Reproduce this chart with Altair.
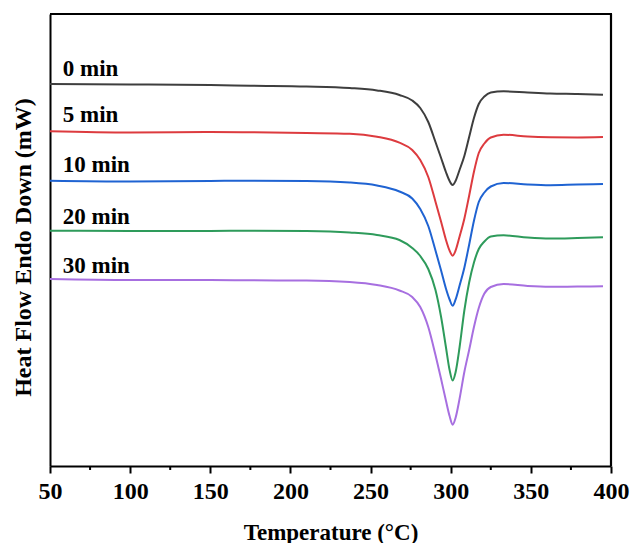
import altair as alt
import pandas as pd

# Temperatures (°C) at which the curves were read
temps = [50, 100, 150, 175, 210, 237, 254, 268, 276, 281, 286, 290.5, 294, 297, 299.3, 301.2,
         303, 305.5, 308.5, 311.5, 314.5, 317.5, 321, 325, 333, 348, 362, 379, 395]

# Heat flow (arbitrary offset units, mW) for each sample
hf_0 = [38.2, 38.15, 38.1, 38.03, 37.95, 37.8, 37.56, 37.1, 36.55, 35.8, 34.4, 32.4, 30.8, 29.4, 28.5, 28.1,
        28.5, 29.6, 31.0, 32.9, 34.8, 36.2, 36.95, 37.35, 37.47, 37.35, 37.25, 37.2, 37.13]
hf_5 = [33.47, 33.35, 33.4, 33.37, 33.3, 33.23, 32.93, 32.33, 31.6, 30.6, 28.9, 26.43, 24.43, 22.63, 21.53, 21.03,
        21.53, 22.93, 24.73, 27.03, 29.43, 31.3, 32.25, 32.85, 33.13, 32.95, 32.88, 32.86, 32.9]
hf_10 = [28.53, 28.45, 28.5, 28.53, 28.5, 28.35, 28.05, 27.45, 26.75, 25.7, 24.0, 21.55, 19.55, 17.75, 16.65, 16.03,
         16.63, 18.03, 19.83, 22.13, 24.53, 26.4, 27.35, 27.95, 28.3, 28.15, 28.08, 28.15, 28.2]
hf_20 = [23.53, 23.5, 23.5, 23.53, 23.5, 23.35, 23.1, 22.6, 21.8, 21.0, 19.7, 17.6, 14.9, 11.9, 9.6, 8.55,
         9.35, 11.85, 15.55, 18.35, 20.35, 21.7, 22.45, 22.95, 23.07, 22.85, 22.75, 22.8, 22.87]
hf_30 = [18.7, 18.6, 18.6, 18.57, 18.55, 18.4, 18.1, 17.55, 16.9, 15.9, 13.9, 11.1, 8.7, 6.55, 5.0, 4.13,
         4.8, 6.7, 9.4, 11.6, 13.9, 15.8, 17.25, 17.9, 18.2, 18.0, 17.92, 17.95, 17.97]

series_names = ["0 min", "5 min", "10 min", "20 min", "30 min"]
series_vals = [hf_0, hf_5, hf_10, hf_20, hf_30]
colors = ["#3e3e3e", "#dd3b3f", "#1f63d2", "#2e9b5b", "#a76fe0"]

# Label positions (text baseline)
label_x = [58, 58, 58, 58, 58]
label_y = [39.0, 34.4, 29.4, 24.2, 19.3]

major_ticks = [50, 100, 150, 200, 250, 300, 350, 400]
minor_ticks = [75, 125, 175, 225, 275, 325, 375]

rows = []
for name, vals in zip(series_names, series_vals):
    for t, v in zip(temps, vals):
        rows.append({"T": t, "HF": v, "series": name})
df = pd.DataFrame(rows)

lab_df = pd.DataFrame({"T": label_x, "HF": label_y, "text": series_names})
one_df = pd.DataFrame({"k": [0]})

FONT = "Liberation Serif"

x_scale = alt.Scale(domain=[50, 400], nice=False, zero=False)
y_scale = alt.Scale(domain=[0.0, 45.2], nice=False, zero=False)

lines = alt.Chart(df).mark_line(strokeWidth=2, interpolate="monotone").encode(
    x=alt.X("T:Q", scale=x_scale,
            axis=alt.Axis(title="Temperature (°C)", values=major_ticks,
                          grid=False, tickSize=7, tickWidth=2, tickColor="black",
                          domainColor="black", domainWidth=2,
                          labelFont=FONT, labelFontSize=24, labelFontWeight="bold", labelColor="black",
                          labelPadding=6, labelFlush=False,
                          titleFont=FONT, titleFontSize=23, titleFontWeight="bold", titleColor="black",
                          titlePadding=18)),
    y=alt.Y("HF:Q", scale=y_scale,
            axis=alt.Axis(title="Heat Flow Endo Down (mW)", labels=False, ticks=False, grid=False,
                          domainColor="black", domainWidth=2,
                          titleFont=FONT, titleFontSize=24, titleFontWeight="bold", titleColor="black",
                          titlePadding=15, titleY=233)),
    color=alt.Color("series:N", scale=alt.Scale(domain=series_names, range=colors), legend=None),
    detail="series:N",
)

minor_df = pd.DataFrame({"T": minor_ticks})
minor = alt.Chart(minor_df).mark_rule(color="black", strokeWidth=2).encode(
    x=alt.X("T:Q", scale=x_scale),
    y=alt.value(452),
    y2=alt.value(456),
)

frame_top = alt.Chart(one_df).mark_rule(color="black", strokeWidth=2.2).encode(
    x=alt.value(0), x2=alt.value(562), y=alt.value(0)
)
frame_right = alt.Chart(one_df).mark_rule(color="black", strokeWidth=2.2).encode(
    x=alt.value(561), y=alt.value(0), y2=alt.value(452)
)

labels = alt.Chart(lab_df).mark_text(
    align="left", baseline="alphabetic", font=FONT, fontSize=23, fontWeight="bold", color="black"
).encode(
    x=alt.X("T:Q", scale=x_scale),
    y=alt.Y("HF:Q", scale=y_scale),
    text="text:N",
)

chart = alt.layer(lines, minor, frame_top, frame_right, labels).properties(
    width=561, height=452,
    autosize=alt.AutoSizeParams(type="none"),
    padding={"left": 50, "top": 14, "right": 19, "bottom": 77},
).configure_view(stroke=None).configure(background="white")

chart.save("out.html", embed_options={"renderer": "svg", "actions": False})
